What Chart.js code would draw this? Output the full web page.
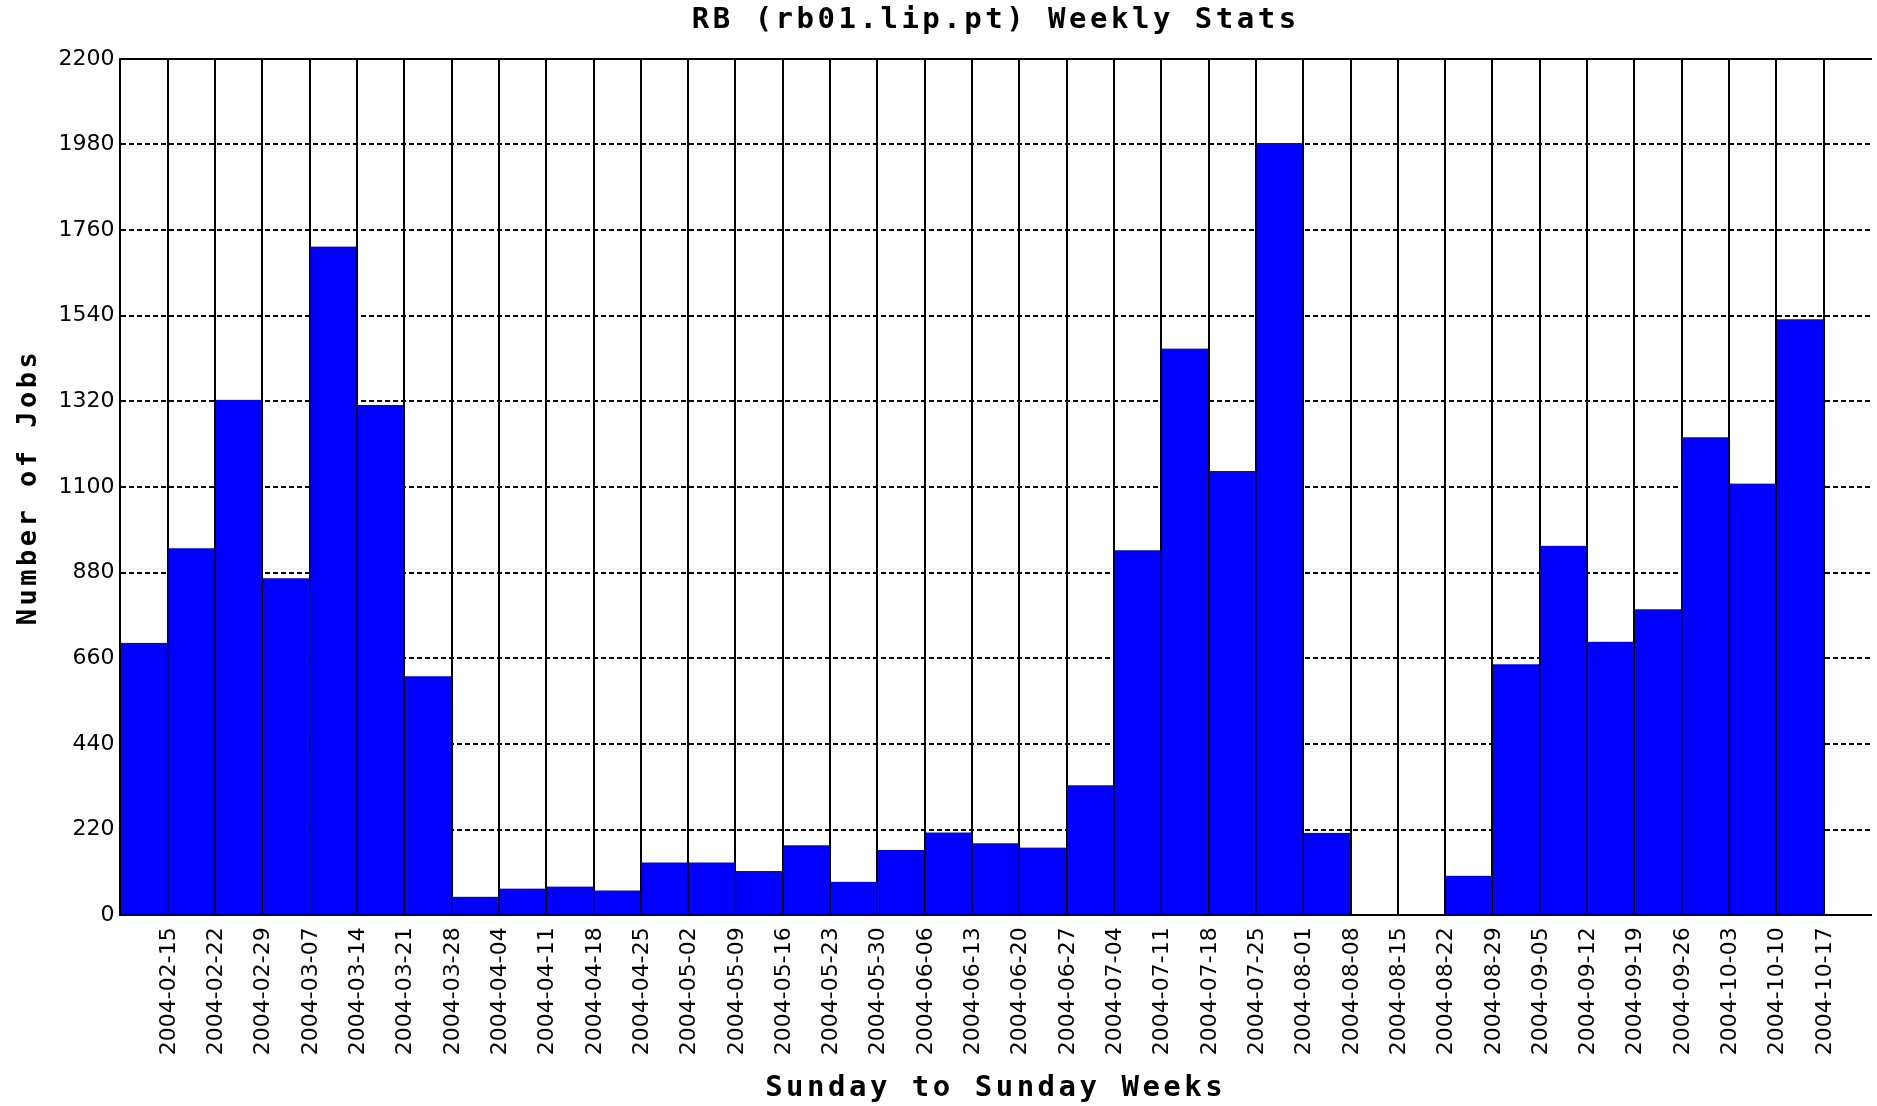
<!DOCTYPE html>
<html lang="fr">
<head>
<meta charset="utf-8">
<title>RB (rb01.lip.pt) Weekly Stats</title>
<script src="https://cdn.jsdelivr.net/npm/chart.js@4.4.1/dist/chart.umd.min.js"></script>
<style>
    html, body { margin: 0; padding: 0; background: #ffffff; }
    #weeklyChart { display: block; }
</style>
</head>
<body>
<canvas id="weeklyChart" width="1877" height="1106"></canvas>
<script>
/* ==========================================================================
   1. DONNEES (semaine = dimanche a dimanche, date = fin de semaine)
   ========================================================================== */
const weeks = [
    '2004-02-15', '2004-02-22', '2004-02-29', '2004-03-07', '2004-03-14', '2004-03-21',
    '2004-03-28', '2004-04-04', '2004-04-11', '2004-04-18', '2004-04-25', '2004-05-02',
    '2004-05-09', '2004-05-16', '2004-05-23', '2004-05-30', '2004-06-06', '2004-06-13',
    '2004-06-20', '2004-06-27', '2004-07-04', '2004-07-11', '2004-07-18', '2004-07-25',
    '2004-08-01', '2004-08-08', '2004-08-15', '2004-08-22', '2004-08-29', '2004-09-05',
    '2004-09-12', '2004-09-19', '2004-09-26', '2004-10-03', '2004-10-10', '2004-10-17',
    '' // semaine en cours, pas encore de jobs
];

const jobs = [
    700, 943, 1324, 866, 1718, 1311,
    614, 48, 69, 74, 64, 136,
    136, 114, 180, 86, 168, 213,
    185, 174, 334, 938, 1456, 1141,
    1984, 212, 0, 0, 102, 645,
    949, 703, 786, 1228, 1109, 1531,
    null
];

const yTicks = [0, 220, 440, 660, 880, 1100, 1320, 1540, 1760, 1980, 2200];

/* ==========================================================================
   2. PLUGIN : espacement des lettres pour les titres (police "bitmap" large)
   ========================================================================== */
const titleSpacing = {
    id: 'titleSpacing',
    beforeDraw(chart) { chart.ctx.letterSpacing = '3.5px'; },
    beforeDatasetsDraw(chart) { chart.ctx.letterSpacing = '0px'; }
};

const titleFont = { family: "'DejaVu Sans Mono', monospace", size: 29, weight: 'bold' };
const yTitleFont = { family: "'DejaVu Sans Mono', monospace", size: 27, weight: 'bold' };
const tickFont = { family: "'DejaVu Sans', sans-serif", size: 22 };

/* ==========================================================================
   3. GRAPHIQUE
   ========================================================================== */
new Chart(document.getElementById('weeklyChart'), {
    type: 'bar',
    data: {
        labels: weeks,
        datasets: [{
            data: jobs,
            backgroundColor: '#0000ff',
            borderColor: '#000000',
            borderWidth: { left: 1, right: 1, top: 0, bottom: 0 },
            barPercentage: 1,
            categoryPercentage: 1
        }]
    },
    options: {
        responsive: false,
        animation: false,
        layout: { padding: { left: 0, right: 6, top: 0, bottom: 0 } },
        plugins: {
            legend: { display: false },
            tooltip: { enabled: false },
            title: {
                display: true,
                text: 'RB (rb01.lip.pt) Weekly Stats',
                fullSize: false,
                color: '#000',
                font: titleFont,
                padding: { top: 3, bottom: 21 }
            }
        },
        scales: {
            x: {
                offset: true,
                grid: { offset: true, color: '#000', lineWidth: 2, drawTicks: false, tickLength: 0 },
                border: { color: '#000', width: 2 },
                ticks: {
                    autoSkip: false,
                    minRotation: 90,
                    maxRotation: 90,
                    labelOffset: 25,
                    padding: 12,
                    color: '#000',
                    font: tickFont,
                    z: 1,
                    // la date s'affiche sur la limite droite de chaque semaine
                    callback: (value, index) => weeks[index] || null
                },
                title: {
                    display: true,
                    text: 'Sunday to Sunday Weeks',
                    color: '#000',
                    font: titleFont,
                    padding: { top: 4, bottom: 0 }
                }
            },
            xTop: {
                type: 'category',
                position: 'top',
                grid: { display: false, drawTicks: false },
                ticks: { display: false },
                border: { color: '#000', width: 2 }
            },
            y: {
                min: 0,
                max: 2200,
                afterBuildTicks: (scale) => { scale.ticks = yTicks.map(v => ({ value: v })); },
                grid: { color: '#000', lineWidth: 2, drawTicks: false, tickLength: 0 },
                border: { color: '#000', width: 2, dash: [5, 3] },
                ticks: {
                    padding: 6,
                    color: '#000',
                    font: tickFont,
                    z: 1,
                    callback: (value) => String(value)
                },
                title: {
                    display: true,
                    text: 'Number of Jobs',
                    color: '#000',
                    font: yTitleFont,
                    padding: { top: 13, bottom: 7 }
                }
            }
        }
    },
    plugins: [titleSpacing]
});
</script>
</body>
</html>
